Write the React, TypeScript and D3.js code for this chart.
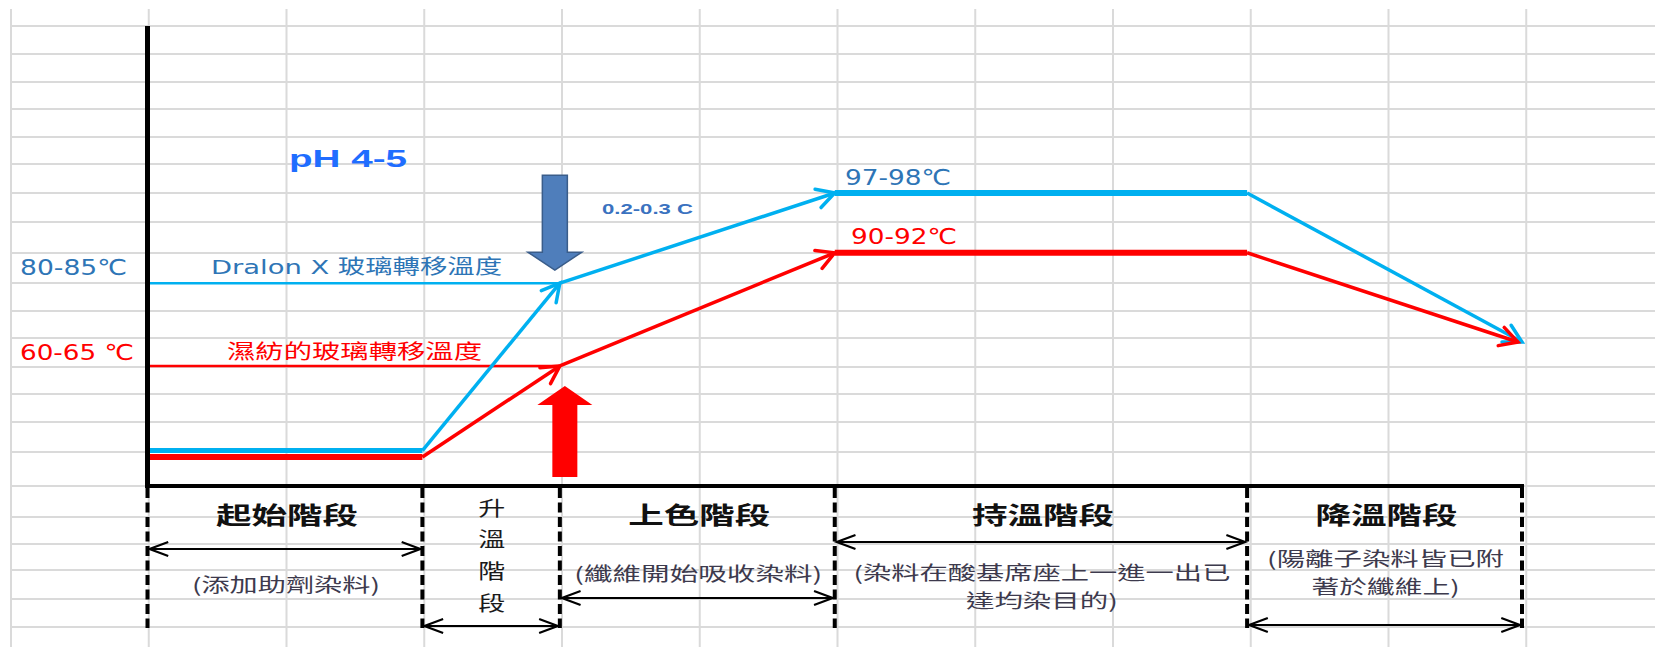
import React from 'react';
import * as d3 from 'd3';

// ---------- data (schematic dyeing profile) ----------
// x: process time in spreadsheet-column units, y: relative temperature level (0-100)
const stageNames = ['起始階段', '升溫階段', '上色階段', '持溫階段', '降溫階段'];
const stageBounds = [0, 2, 3, 5, 8, 10];
const stageNotes = [
  ['(添加助劑染料)'],
  [],
  ['(纖維開始吸收染料)'],
  ['(染料在酸基席座上一進一出已', '達均染目的)'],
  ['(陽離子染料皆已附', '著於纖維上)'],
];

const dralonX = [0, 2, 3, 5, 8, 10];
const dralonLevel = [7.7, 7.7, 44.1, 63.7, 63.7, 31.3];
const wetX = [0, 2, 3, 5, 8, 9.97];
const wetLevel = [6.3, 6.3, 26.1, 50.7, 50.7, 31.3];

const dralonTgLabel = '80-85℃';
const dralonTgText = 'Dralon X 玻璃轉移溫度';
const wetTgLabel = '60-65 ℃';
const wetTgText = '濕紡的玻璃轉移溫度';
const dralonHoldLabel = '97-98℃';
const wetHoldLabel = '90-92℃';
const phLabel = 'pH 4-5';
const rateLabel = '0.2-0.3 C';

// ---------- layout / style ----------
const W = 1655;
const H = 647;
const BLUE = '#00b0f0';
const RED = '#ff0000';
const TXT_BLUE = '#2e75b6';
const GRID = '#dadada';
const gridRows = [26, 54, 82, 109, 137, 164, 193, 222, 253, 283, 311, 338, 367, 394, 422, 452, 486, 517, 544, 570, 599, 627];
const gridColStart = 11;
const gridColStep = 137.75;
const noteCenters = [[583.5], [], [572], [571, 599], [557.5, 585]];
const noteWidths = [[188], [], [248], [377, 152], [237, 148]];
const spanArrowY = [549, 626, 598, 542, 625];
const CJK = "'Noto Sans CJK TC', 'Noto Sans CJK SC', sans-serif";
const LAT = "'DejaVu Sans', 'Noto Sans CJK TC', sans-serif";

function chevron(tx: number, ty: number, fx: number, fy: number, len: number, ang: number) {
  const a = Math.atan2(ty - fy, tx - fx);
  const p1 = [tx - len * Math.cos(a - ang), ty - len * Math.sin(a - ang)];
  const p2 = [tx - len * Math.cos(a + ang), ty - len * Math.sin(a + ang)];
  return `M${p1[0]},${p1[1]}L${tx},${ty}L${p2[0]},${p2[1]}`;
}

export default function App() {
  const x = d3.scaleLinear().domain([0, 10]).range([147.5, 1522]);
  const y = d3.scaleLinear().domain([0, 100]).range([486, 26]);
  const line = d3.line<[number, number]>().x(d => x(d[0])).y(d => y(d[1]));

  const series = [
    { xs: dralonX, ys: dralonLevel, color: BLUE, widths: [5, 3.5, 3.5, 6, 3.5] },
    { xs: wetX, ys: wetLevel, color: RED, widths: [6, 3.5, 3.5, 6, 3.5] },
  ];
  const arrowSegs = [1, 2, 4];

  const cols: number[] = [];
  for (let c = gridColStart; c <= W; c += gridColStep) cols.push(c);

  const x3 = x(stageBounds[2]);
  const downCx = x3 - 5;
  const downTip = y(dralonLevel[2]) - 13;
  const upCx = x3 + 5;
  const upTip = y(wetLevel[2]) + 20;
  const upBottom = y(0) - 9;

  const downArrow = [
    [downCx - 12.5, downTip - 95], [downCx + 12.5, downTip - 95], [downCx + 12.5, downTip - 18],
    [downCx + 27, downTip - 18], [downCx, downTip], [downCx - 27, downTip - 18], [downCx - 12.5, downTip - 18],
  ];
  const upArrow = [
    [upCx, upTip], [upCx + 27.5, upTip + 19], [upCx + 12.5, upTip + 19], [upCx + 12.5, upBottom],
    [upCx - 12.5, upBottom], [upCx - 12.5, upTip + 19], [upCx - 27.5, upTip + 19],
  ];

  return (
    <svg width={W} height={H} style={{ position: 'absolute', left: 0, top: 0, background: '#fff' }}>
      {/* spreadsheet grid */}
      <g stroke={GRID} strokeWidth={2}>
        {cols.map((c, i) => <line key={'c' + i} x1={c} x2={c} y1={9} y2={H} />)}
        {gridRows.map((r, i) => <line key={'r' + i} x1={12} x2={W} y1={r} y2={r} />)}
      </g>

      {/* reference Tg lines */}
      <line x1={x(0) + 2} x2={x(3)} y1={y(dralonLevel[2])} y2={y(dralonLevel[2])} stroke={BLUE} strokeWidth={2.5} />
      <line x1={x(0) + 2} x2={x(3)} y1={y(wetLevel[2])} y2={y(wetLevel[2])} stroke={RED} strokeWidth={2.5} />

      {/* block arrows */}
      <polygon points={downArrow.map(p => p.join(',')).join(' ')} fill="#4f7ebb" stroke="#3a5d8a" strokeWidth={1.5} />
      <polygon points={upArrow.map(p => p.join(',')).join(' ')} fill={RED} />

      {/* series */}
      {series.map((s, si) => (
        <g key={si} fill="none" stroke={s.color}>
          {s.xs.slice(0, -1).map((_, i) => {
            const pts: [number, number][] = [[s.xs[i], s.ys[i]], [s.xs[i + 1], s.ys[i + 1]]];
            return <path key={i} d={line(pts) || ''} strokeWidth={s.widths[i]} />;
          })}
          {arrowSegs.map(i => (
            <path key={'a' + i}
              d={chevron(x(s.xs[i + 1]), y(s.ys[i + 1]), x(s.xs[i]), y(s.ys[i]), 20, 0.5)}
              strokeWidth={3.5} strokeLinecap="round" strokeLinejoin="miter" />
          ))}
        </g>
      ))}

      {/* axes */}
      <line x1={x(0)} x2={x(0)} y1={y(100)} y2={y(0) + 2} stroke="#000" strokeWidth={5} />
      <line x1={x(0) - 2} x2={x(10) + 2} y1={y(0)} y2={y(0)} stroke="#000" strokeWidth={4} />

      {/* stage boxes */}
      <g stroke="#000" strokeWidth={4} strokeDasharray="10 4.5">
        {stageBounds.map((b, i) => <line key={i} x1={x(b)} x2={x(b)} y1={y(0) + 2} y2={628} />)}
      </g>
      <g stroke="#000" strokeWidth={2.2} fill="none">
        {stageNames.map((_, i) => {
          const x0 = x(stageBounds[i]) + 2, x1 = x(stageBounds[i + 1]) - 2, yy = spanArrowY[i];
          return (
            <g key={i}>
              <line x1={x0} x2={x1} y1={yy} y2={yy} />
              <path d={chevron(x1, yy, x0, yy, 20, 0.36)} />
              <path d={chevron(x0, yy, x1, yy, 20, 0.36)} />
            </g>
          );
        })}
      </g>

      {/* stage titles */}
      {stageNames.map((n, i) => {
        const cx = (x(stageBounds[i]) + x(stageBounds[i + 1])) / 2;
        if (i === 1) {
          return (
            <g key={i}>
              {n.split('').map((ch, k) => (
                <text key={k} x={cx + 0.5} y={507 + k * 31.7} textAnchor="middle" dominantBaseline="central"
                  fontFamily={CJK} fontSize={20} fill="#1a1a1a" textLength={27} lengthAdjust="spacingAndGlyphs">{ch}</text>
              ))}
            </g>
          );
        }
        return (
          <text key={i} x={cx + 2} y={513.5} textAnchor="middle" dominantBaseline="central" fontFamily={CJK}
            fontWeight={700} fontSize={24} fill="#111" textLength={142} lengthAdjust="spacingAndGlyphs">{n}</text>
        );
      })}
      {stageNotes.map((lines, i) => {
        const cx = (x(stageBounds[i]) + x(stageBounds[i + 1])) / 2;
        return lines.map((t, k) => (
          <text key={i + '-' + k} x={cx + 1} y={noteCenters[i][k]} textAnchor="middle" dominantBaseline="central"
            fontFamily={CJK} fontSize={19} fill="#3d3a4d" textLength={noteWidths[i][k]} lengthAdjust="spacingAndGlyphs">{t}</text>
        ));
      })}

      {/* labels */}
      <text x={289} y={167} fontFamily="'Liberation Sans', Arial, sans-serif" fontWeight={700} fontSize={24}
        fill="#1f6dff" textLength={118} lengthAdjust="spacingAndGlyphs">{phLabel}</text>
      <text x={602} y={214} fontFamily="'Liberation Sans', Arial, sans-serif" fontWeight={700} fontSize={15}
        fill="#3a72c0" textLength={91} lengthAdjust="spacingAndGlyphs">{rateLabel}</text>

      <text x={20} y={y(dralonLevel[2]) - 8} fontFamily={LAT} fontSize={22} fill={TXT_BLUE}
        textLength={107} lengthAdjust="spacingAndGlyphs">{dralonTgLabel}</text>
      <text x={211} y={y(dralonLevel[2]) - 9} fontFamily={LAT} fontSize={20} fill={TXT_BLUE}
        textLength={291} lengthAdjust="spacingAndGlyphs">{dralonTgText}</text>
      <text x={20} y={y(wetLevel[2]) - 6} fontFamily={LAT} fontSize={22} fill={RED}
        textLength={114} lengthAdjust="spacingAndGlyphs">{wetTgLabel}</text>
      <text x={227} y={y(wetLevel[2]) - 7} fontFamily={CJK} fontSize={20} fill={RED}
        textLength={255} lengthAdjust="spacingAndGlyphs">{wetTgText}</text>
      <text x={845} y={y(dralonLevel[3]) - 8} fontFamily={LAT} fontSize={22} fill={TXT_BLUE}
        textLength={106} lengthAdjust="spacingAndGlyphs">{dralonHoldLabel}</text>
      <text x={851} y={y(wetLevel[3]) - 9} fontFamily={LAT} fontSize={22} fill={RED}
        textLength={106} lengthAdjust="spacingAndGlyphs">{wetHoldLabel}</text>
    </svg>
  );
}
